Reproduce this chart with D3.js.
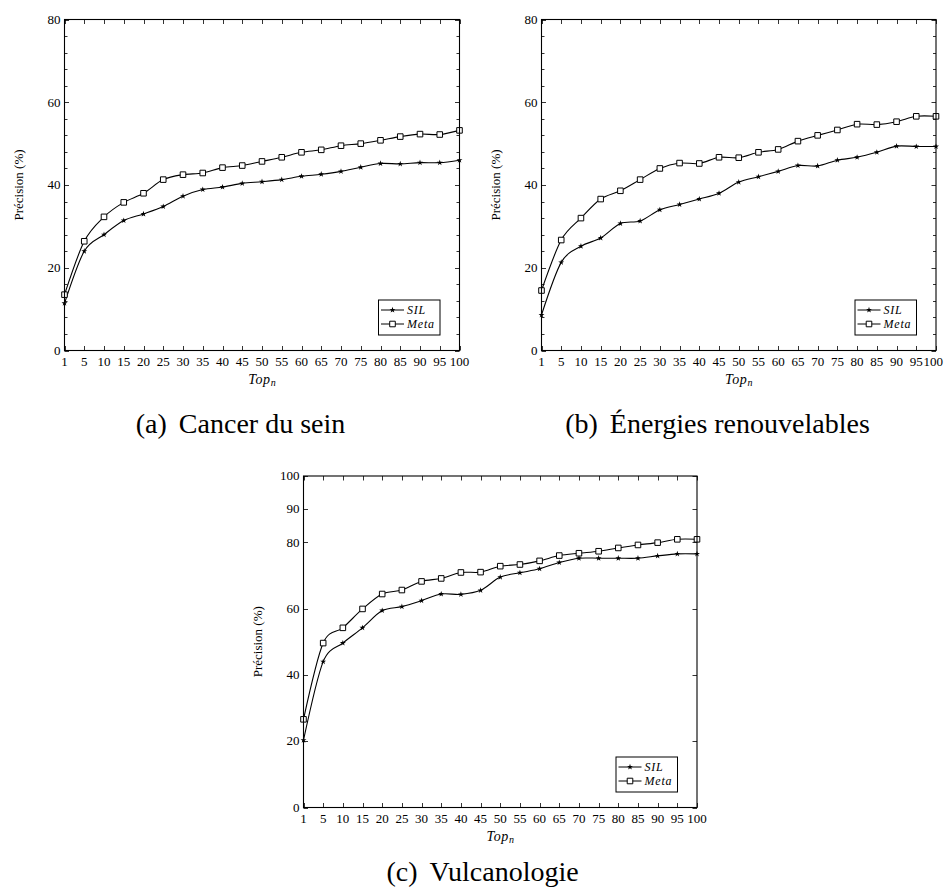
<!DOCTYPE html>
<html>
<head>
<meta charset="utf-8">
<script src="https://cdn.jsdelivr.net/npm/d3@7"></script>
<style>
  html, body { margin: 0; padding: 0; background: #fff; }
  svg { display: block; }
  text { font-family: "Liberation Serif", "DejaVu Serif", serif; fill: #000; }
</style>
</head>
<body>
<svg id="fig" width="944" height="893"></svg>
<script>
// Top-n cut-offs shared by the three panels
const categories = ["1","5","10","15","20","25","30","35","40","45","50",
                    "55","60","65","70","75","80","85","90","95","100"];

// (a) Cancer du sein
const silCancer  = [11.4,24.0,28.0,31.4,33.0,34.8,37.3,38.9,39.5,40.4,40.8,
                    41.3,42.1,42.6,43.3,44.3,45.2,45.1,45.4,45.4,46.0];
const metaCancer = [13.5,26.4,32.3,35.8,38.0,41.3,42.5,42.9,44.2,44.7,45.7,
                    46.7,47.9,48.5,49.5,50.0,50.8,51.7,52.3,52.2,53.2];

// (b) Énergies renouvelables
const silEnergie  = [8.6,21.3,25.2,27.2,30.7,31.3,34.0,35.3,36.6,38.0,40.7,
                     42.0,43.3,44.7,44.6,46.0,46.7,47.9,49.4,49.3,49.3];
const metaEnergie = [14.5,26.7,32.0,36.6,38.6,41.3,44.0,45.3,45.2,46.7,46.6,
                     47.9,48.6,50.6,52.0,53.3,54.7,54.6,55.3,56.6,56.6];

// (c) Vulcanologie
const silVolcan  = [20.3,44.0,49.6,54.2,59.4,60.6,62.4,64.4,64.3,65.5,69.5,
                    70.8,72.0,73.9,75.2,75.2,75.2,75.2,75.9,76.5,76.5];
const metaVolcan = [26.6,49.6,54.2,59.9,64.4,65.6,68.2,69.1,70.9,71.0,72.8,
                    73.3,74.4,76.0,76.7,77.3,78.3,79.2,79.9,80.9,80.9];

// y-axis tick labels
const yTicksAB = [0, 20, 40, 60, 80];
const yTicksC  = [0, 20, 40, 60, 80, 90, 100];

const seriesNames = ["SIL", "Meta"];

const W = 944;
const svg = d3.select("#fig");

// tension close to the TikZ "smooth" plot handler
const curve = d3.curveCardinal.tension(0.08);
const starPath   = d3.symbol(d3.symbolStar, 11)();
const squarePath = d3.symbol(d3.symbolSquare, 31)();

function drawPanel(p) {
  const g = svg.append("g");
  const x = d3.scalePoint().domain(categories).range([p.left, p.right]).padding(0);
  const y = d3.scaleLinear().domain([0, p.ymax]).range([p.bottom, p.top]);

  // minor ticks
  const minor = p.minorStep
    ? d3.range(0, p.ymax + 0.001, p.minorStep).filter(v => !p.yTicks.includes(v))
    : [];
  const tickG = g.append("g").attr("stroke", "#000").attr("stroke-width", 0.8);
  minor.forEach(v => {
    const yy = Math.round(y(v)) + 0.5;
    tickG.append("line").attr("x1", p.left).attr("x2", p.left + 3).attr("y1", yy).attr("y2", yy);
    tickG.append("line").attr("x1", p.right).attr("x2", p.right - 3).attr("y1", yy).attr("y2", yy);
  });
  p.yTicks.forEach(v => {
    const yy = Math.round(y(v)) + 0.5;
    tickG.append("line").attr("x1", p.left).attr("x2", p.left + 4.5).attr("y1", yy).attr("y2", yy);
    tickG.append("line").attr("x1", p.right).attr("x2", p.right - 4.5).attr("y1", yy).attr("y2", yy);
  });
  categories.forEach(c => {
    const xx = Math.round(x(c)) + 0.5;
    tickG.append("line").attr("x1", xx).attr("x2", xx).attr("y1", p.bottom).attr("y2", p.bottom - 4.5);
    tickG.append("line").attr("x1", xx).attr("x2", xx).attr("y1", p.top).attr("y2", p.top + 4.5);
  });

  // tick labels
  g.append("g").selectAll("text").data(p.yTicks).join("text")
    .attr("x", p.left - 4).attr("y", v => y(v)).attr("dy", "0.33em")
    .attr("text-anchor", "end").attr("font-size", 13).text(v => v);
  g.append("g").selectAll("text").data(categories).join("text")
    .attr("x", c => x(c)).attr("y", p.bottom + 15)
    .attr("text-anchor", "middle").attr("font-size", 13).text(c => c)
    .each(function () {
      // keep labels inside the figure's right edge
      const b = this.getBBox();
      if (b.x + b.width > W - 1) this.setAttribute("x", W - 1 - b.width / 2);
    });

  // axis titles
  const xt = g.append("text").attr("x", (p.left + p.right) / 2).attr("y", p.bottom + 33)
    .attr("text-anchor", "middle").attr("font-size", 14).attr("font-style", "italic");
  xt.append("tspan").attr("letter-spacing", 0.7).text("Top");
  xt.append("tspan").attr("font-size", 10).attr("dy", 2.5).text("n");
  g.append("text")
    .attr("transform", `translate(${p.left - 42},${(p.top + p.bottom) / 2}) rotate(-90)`)
    .attr("text-anchor", "middle").attr("font-size", 13).text("Précision (%)");

  // series
  const line = d3.line().x((d, i) => x(categories[i])).y(d => y(d)).curve(curve);
  [p.sil, p.meta].forEach(vals => {
    g.append("path").datum(vals).attr("d", line)
      .attr("fill", "none").attr("stroke", "#000").attr("stroke-width", 1.1);
  });
  g.append("g").selectAll("path").data(p.sil).join("path")
    .attr("d", starPath).attr("transform", (d, i) => `translate(${x(categories[i])},${y(d)})`)
    .attr("fill", "#000");
  g.append("g").selectAll("path").data(p.meta).join("path")
    .attr("d", squarePath).attr("transform", (d, i) => `translate(${x(categories[i])},${y(d)})`)
    .attr("fill", "#fff").attr("stroke", "#000").attr("stroke-width", 1);

  // frame
  g.append("rect").attr("x", p.left).attr("y", p.top)
    .attr("width", p.right - p.left).attr("height", p.bottom - p.top)
    .attr("fill", "none").attr("stroke", "#000").attr("stroke-width", 1.1);

  // legend
  const lw = 61.5, lh = 35;
  const lx = p.right - 20 - lw, ly = p.bottom - 16 - lh;
  const lg = g.append("g").attr("transform", `translate(${lx},${ly})`);
  lg.append("rect").attr("x", 0.5).attr("y", 0.5).attr("width", lw).attr("height", lh)
    .attr("fill", "#fff").attr("stroke", "#000").attr("stroke-width", 1);
  seriesNames.forEach((name, i) => {
    const ry = 10.5 + i * 14;
    lg.append("line").attr("x1", 3).attr("x2", 26).attr("y1", ry).attr("y2", ry)
      .attr("stroke", "#000").attr("stroke-width", 1);
    lg.append("path").attr("d", i === 0 ? starPath : squarePath)
      .attr("transform", `translate(14.5,${ry})`)
      .attr("fill", i === 0 ? "#000" : "#fff").attr("stroke", i === 0 ? "none" : "#000");
    lg.append("text").attr("x", 29).attr("y", ry).attr("dy", "0.33em")
      .attr("font-size", 12).attr("font-style", "italic").attr("letter-spacing", 0.8)
      .text(name);
  });

  // sub-caption
  const cap = svg.append("text").attr("x", p.capX).attr("y", p.capY)
    .attr("text-anchor", "middle").attr("font-size", 28);
  cap.append("tspan").text(p.capTag);
  cap.append("tspan").attr("dx", 12).text(p.capText);
}

drawPanel({ left: 64.5, right: 459.5, top: 19.5, bottom: 350.5, ymax: 80,
            yTicks: yTicksAB, minorStep: 4, sil: silCancer, meta: metaCancer,
            capX: 240.5, capY: 433, capTag: "(a)", capText: "Cancer du sein" });
drawPanel({ left: 541.5, right: 936, top: 19.5, bottom: 350.5, ymax: 80,
            yTicks: yTicksAB, minorStep: 4, sil: silEnergie, meta: metaEnergie,
            capX: 717.5, capY: 433, capTag: "(b)", capText: "Énergies renouvelables" });
drawPanel({ left: 303.5, right: 697, top: 476, bottom: 807.5, ymax: 100,
            yTicks: yTicksC, minorStep: 0, sil: silVolcan, meta: metaVolcan,
            capX: 482.5, capY: 881, capTag: "(c)", capText: "Vulcanologie" });
</script>
</body>
</html>
